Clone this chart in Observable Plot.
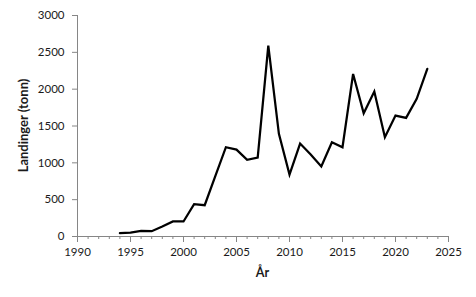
<!DOCTYPE html>
<html>
<head>
<meta charset="utf-8">
<script src="https://cdn.jsdelivr.net/npm/d3@7"></script>
<script src="https://cdn.jsdelivr.net/npm/@observablehq/plot@0.6"></script>
<style>
  html, body { margin: 0; padding: 0; background: #fff; }
  #chart svg { display: block; }
</style>
</head>
<body>
<div id="chart"></div>
<script>
const years = [1994, 1995, 1996, 1997, 1998, 1999, 2000, 2001, 2002, 2003, 2004, 2005, 2006, 2007, 2008, 2009, 2010, 2011, 2012, 2013, 2014, 2015, 2016, 2017, 2018, 2019, 2020, 2021, 2022, 2023];
const landings = [45, 54, 77, 72, 136, 204, 204, 438, 425, 820, 1212, 1180, 1041, 1072, 2592, 1393, 841, 1262, 1113, 950, 1280, 1212, 2207, 1673, 1967, 1348, 1642, 1610, 1868, 2275];
const xMajorTicks = [1990, 1995, 2000, 2005, 2010, 2015, 2020, 2025];
const xMinorTicks = d3.range(1990, 2026);
const yTicks = [0, 500, 1000, 1500, 2000, 2500, 3000];
const xLabel = "År";
const yLabel = "Landinger (tonn)";

const data = years.map((y, i) => ({year: y, value: landings[i]}));

const axisColor = "#868686";
const textColor = "#1a1a1a";

const plot = Plot.plot({
  width: 476,
  height: 297,
  marginLeft: 77,
  marginRight: 28,
  marginTop: 15,
  marginBottom: 61,
  style: {fontFamily: "Lato, 'Open Sans', sans-serif", fontSize: "11.5px", color: textColor, background: "#fff"},
  x: {domain: [1990, 2025]},
  y: {domain: [0, 3000]},
  marks: [
    Plot.axisX({ticks: xMinorTicks, tickSize: 3, tickFormat: () => "", stroke: axisColor, strokeOpacity: 1, label: null}),
    Plot.axisX({ticks: xMajorTicks, tickSize: 6, tickPadding: 5, tickFormat: d => String(d), stroke: axisColor, strokeOpacity: 1, fill: textColor, label: null}),
    Plot.axisY({ticks: yTicks, tickSize: 5, tickPadding: 8, tickFormat: d => String(d), stroke: axisColor, strokeOpacity: 1, fill: textColor, label: null}),
    Plot.ruleY([0], {stroke: axisColor, strokeWidth: 1}),
    Plot.ruleX([1990], {y1: 0, y2: 3000, stroke: axisColor, strokeWidth: 1}),
    Plot.lineY(data, {x: "year", y: "value", stroke: "#000", strokeWidth: 2.25, strokeLinejoin: "miter", strokeMiterlimit: 4})
  ]
});

const svg = d3.select(plot);
// axis titles
svg.append("text")
  .attr("x", (77 + 448) / 2)
  .attr("y", 277)
  .attr("text-anchor", "middle")
  .attr("font-weight", "bold")
  .attr("font-size", "12.5px")
  .attr("fill", textColor)
  .text(xLabel);
svg.append("text")
  .attr("transform", `translate(28, ${(15 + 236) / 2}) rotate(-90)`)
  .attr("text-anchor", "middle")
  .attr("font-weight", "bold")
  .attr("font-size", "13px")
  .attr("fill", textColor)
  .text(yLabel);

document.getElementById("chart").appendChild(plot);
</script>
</body>
</html>
